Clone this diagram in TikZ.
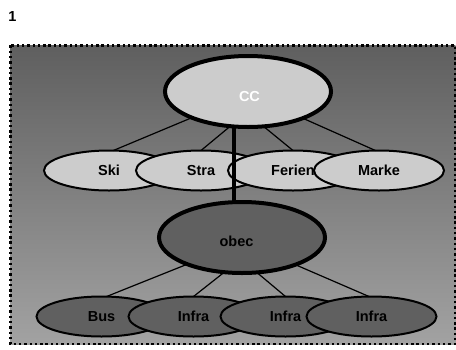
\documentclass[tikz,border=0pt]{standalone}
\usepackage{fontspec}
\setmainfont{Liberation Sans}
\definecolor{bgtop}{RGB}{95, 95, 95}
\definecolor{bgbot}{RGB}{162, 162, 162}
\definecolor{paleell}{RGB}{204, 204, 204}
\definecolor{darkell}{RGB}{96, 96, 96}
\usepackage{tikz}
\usetikzlibrary{shapes, positioning}

\begin{document}
\begin{tikzpicture}[x=1pt, y=-1pt,
  every node/.style={font=\fontsize{14.5}{17}\selectfont\bfseries, inner sep=0pt, outer sep=0pt},
  topell/.style={ellipse, draw, line width=4pt, minimum width=166pt, minimum height=71pt},
  rowell/.style={ellipse, draw, line width=2pt, minimum width=130pt, minimum height=40pt},
  twig/.style={line width=1.2pt},
  trunk/.style={line width=4pt},
]
\useasboundingbox (0, 0) rectangle (456, 349);

% Frame with gradient
\shade[top color=bgtop, bottom color=bgbot] (10.3, 45.3) rectangle (455.3, 344);
\draw[line width=2.4pt, dash pattern=on 2.4pt off 2.9pt] (10.3, 45.3) rectangle (455.3, 344);
\node (num) at (12.5, 16.5) {1};

% Upper level
\node[topell, fill=paleell, text=white] (cc) at (248, 91.5) {\hspace*{3pt}\rule{0pt}{20.4pt}CC};
\node[rowell, fill=paleell] (ski) at (109, 170.5) {Ski};
\node[rowell, fill=paleell] (stra) at (201, 170.5) {Stra};
\node[rowell, fill=paleell] (ferien) at (293, 170.5) {Ferien};
\node[rowell, fill=paleell] (marke) at (379, 170.5) {Marke};

% Lower level
\node[topell, fill=darkell] (obec) at (242, 237.5) {\rule{0pt}{18.6pt}obec\hspace*{11pt}};
\node[rowell, fill=darkell] (bus) at (101.5, 316.5) {Bus};
\node[rowell, fill=darkell] (infraA) at (193.5, 316.5) {Infra};
\node[rowell, fill=darkell] (infraB) at (285.5, 316.5) {Infra};
\node[rowell, fill=darkell] (infraC) at (371.5, 316.5) {Infra};

% Connectors
\draw[twig] (cc.205) -- (ski.78);
\draw[twig] (cc.243) -- (stra.north);
\draw[twig] (cc.294) -- (ferien.north);
\draw[twig] (cc.334) -- (marke.100);
\draw[twig] (obec.206) -- (bus.76);
\draw[twig] (obec.243) -- (infraA.north);
\draw[twig] (obec.293) -- (infraB.north);
\draw[twig] (obec.333) -- (infraC.97);
\coordinate (trunkx) at (234, 0);
\draw[trunk] (cc.south -| trunkx) -- (obec.north -| trunkx);
\end{tikzpicture}
\end{document}
